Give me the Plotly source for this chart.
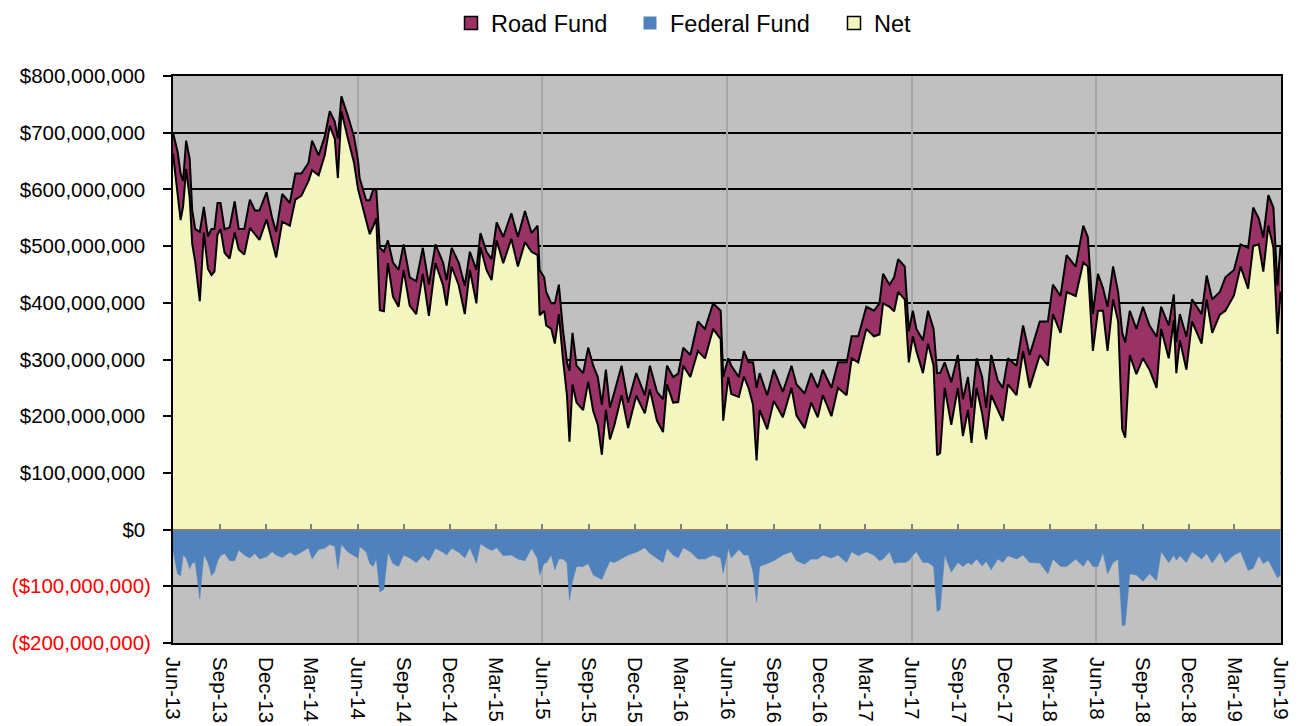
import plotly.graph_objects as go

# Values in $ millions
dates = [
    "2013-06-01", "2013-06-10", "2013-06-16", "2013-06-21", "2013-06-27", "2013-07-04", "2013-07-09", "2013-07-15",
    "2013-07-24", "2013-08-01", "2013-08-09", "2013-08-16", "2013-08-22", "2013-08-28", "2013-09-03", "2013-09-11",
    "2013-09-21", "2013-10-01", "2013-10-09", "2013-10-20", "2013-10-31", "2013-11-10", "2013-11-19", "2013-12-03",
    "2013-12-14", "2013-12-22", "2014-01-03", "2014-01-18", "2014-01-29", "2014-02-10", "2014-02-24", "2014-03-03",
    "2014-03-16", "2014-03-28", "2014-04-07", "2014-04-17", "2014-04-23", "2014-04-30", "2014-05-12", "2014-05-25",
    "2014-06-02", "2014-06-05", "2014-06-18", "2014-06-25", "2014-07-02", "2014-07-08", "2014-07-15", "2014-07-23",
    "2014-07-31", "2014-08-10", "2014-08-21", "2014-08-31", "2014-09-12", "2014-09-25", "2014-10-08", "2014-10-20",
    "2014-11-02", "2014-11-17", "2014-11-24", "2014-12-04", "2014-12-18", "2014-12-30", "2015-01-09", "2015-01-22",
    "2015-01-30", "2015-02-11", "2015-02-21", "2015-03-03", "2015-03-16", "2015-04-01", "2015-04-14", "2015-04-28",
    "2015-05-11", "2015-05-23", "2015-05-27", "2015-06-05", "2015-06-09", "2015-06-19", "2015-06-26", "2015-07-04",
    "2015-07-12", "2015-07-20", "2015-07-25", "2015-07-31", "2015-08-08", "2015-08-21", "2015-08-31", "2015-09-10",
    "2015-09-19", "2015-09-27", "2015-10-05", "2015-10-13", "2015-10-22", "2015-11-05", "2015-11-18", "2015-12-04",
    "2015-12-21", "2015-12-31", "2016-01-14", "2016-01-26", "2016-02-03", "2016-02-15", "2016-02-25", "2016-03-06",
    "2016-03-20", "2016-04-04", "2016-04-18", "2016-05-04", "2016-05-19", "2016-05-24", "2016-06-03", "2016-06-09",
    "2016-06-24", "2016-07-04", "2016-07-13", "2016-07-22", "2016-07-29", "2016-08-04", "2016-08-19", "2016-09-01",
    "2016-09-19", "2016-10-06", "2016-10-16", "2016-11-01", "2016-11-14", "2016-11-27", "2016-12-07", "2016-12-24",
    "2017-01-06", "2017-01-23", "2017-02-02", "2017-02-15", "2017-03-03", "2017-03-18", "2017-03-29", "2017-04-05",
    "2017-04-18", "2017-04-27", "2017-05-05", "2017-05-18", "2017-05-26", "2017-06-03", "2017-06-10", "2017-06-23",
    "2017-07-03", "2017-07-14", "2017-07-21", "2017-07-27", "2017-08-05", "2017-08-18", "2017-08-31", "2017-09-10",
    "2017-09-20", "2017-09-27", "2017-10-07", "2017-10-18", "2017-10-26", "2017-11-05", "2017-11-18", "2017-11-28",
    "2017-12-08", "2017-12-25", "2018-01-07", "2018-01-20", "2018-02-09", "2018-02-25", "2018-03-07", "2018-03-22",
    "2018-04-03", "2018-04-21", "2018-05-06", "2018-05-15", "2018-05-25", "2018-06-04", "2018-06-14", "2018-06-23",
    "2018-07-04", "2018-07-14", "2018-07-22", "2018-07-28", "2018-08-06", "2018-08-19", "2018-09-01", "2018-09-14",
    "2018-09-28", "2018-10-07", "2018-10-22", "2018-11-01", "2018-11-06", "2018-11-13", "2018-11-26", "2018-12-07",
    "2018-12-26", "2019-01-05", "2019-01-16", "2019-01-31", "2019-02-11", "2019-02-28", "2019-03-13", "2019-03-28",
    "2019-04-07", "2019-04-18", "2019-04-27", "2019-05-07", "2019-05-17", "2019-05-25", "2019-05-31",
]

road_fund = [
    700, 667, 628, 615, 686, 654, 563, 530, 525, 569, 517, 530, 530, 576, 576, 530,
    533, 579, 530, 530, 582, 563, 563, 595, 550, 525, 592, 576, 628, 628, 647, 686,
    660, 693, 738, 719, 690, 764, 732, 693, 650, 620, 581, 581, 600, 600, 497, 490,
    510, 471, 458, 503, 445, 438, 497, 432, 503, 471, 440, 497, 471, 430, 490, 458,
    523, 490, 477, 542, 516, 558, 516, 562, 523, 536, 458, 445, 419, 399, 399, 432,
    354, 295, 280, 347, 289, 276, 321, 289, 269, 220, 282, 215, 243, 289, 224, 276,
    237, 289, 243, 230, 289, 269, 275, 321, 308, 367, 354, 399, 386, 269, 302, 289,
    269, 315, 295, 295, 250, 276, 237, 282, 243, 289, 256, 240, 276, 250, 282, 250,
    295, 295, 341, 341, 393, 386, 399, 451, 432, 445, 477, 464, 350, 386, 354, 334,
    386, 354, 276, 276, 295, 260, 308, 230, 269, 215, 302, 269, 215, 308, 263, 250,
    302, 289, 360, 308, 367, 367, 432, 412, 484, 464, 536, 516, 380, 451, 426, 393,
    464, 419, 347, 330, 386, 354, 393, 360, 340, 393, 360, 415, 330, 380, 340, 406,
    380, 448, 406, 419, 445, 458, 503, 497, 568, 549, 515, 590, 568, 430, 500,
]

federal_fund = [
    -37, -78, -82, -45, -50, -69, -59, -58, -122, -45, -57, -81, -75, -56, -46, -42,
    -55, -55, -36, -45, -50, -42, -52, -48, -39, -45, -49, -40, -46, -39, -32, -52,
    -35, -33, -26, -30, -70, -26, -39, -46, -50, -30, -39, -60, -65, -51, -110, -105,
    -40, -60, -65, -45, -50, -58, -46, -55, -33, -40, -45, -33, -40, -50, -32, -59,
    -25, -32, -37, -32, -46, -45, -52, -55, -33, -52, -80, -59, -59, -45, -71, -52,
    -52, -58, -125, -91, -65, -65, -60, -80, -84, -88, -71, -56, -58, -52, -45, -40,
    -32, -42, -51, -58, -33, -45, -50, -32, -39, -52, -52, -45, -50, -77, -33, -50,
    -35, -45, -45, -75, -128, -65, -60, -55, -45, -39, -55, -61, -52, -52, -45, -50,
    -45, -58, -39, -46, -39, -45, -55, -52, -39, -60, -58, -58, -55, -45, -39, -58,
    -58, -65, -145, -141, -45, -75, -58, -65, -58, -62, -52, -64, -56, -71, -52, -58,
    -46, -52, -45, -58, -59, -78, -52, -65, -65, -52, -65, -52, -65, -65, -40, -78,
    -58, -52, -170, -168, -78, -80, -91, -78, -90, -39, -58, -45, -54, -46, -58, -39,
    -52, -42, -59, -40, -59, -45, -39, -72, -68, -46, -60, -54, -71, -85, -80,
]

net_fund = [
    663, 589, 546, 570, 636, 585, 504, 472, 403, 524, 460, 449, 455, 520, 530, 488,
    478, 524, 494, 485, 532, 521, 511, 547, 511, 480, 543, 536, 582, 589, 615, 634,
    625, 660, 712, 689, 620, 738, 693, 647, 600, 590, 542, 521, 535, 549, 387, 385,
    470, 411, 393, 458, 395, 380, 451, 377, 470, 431, 395, 464, 431, 380, 458, 399,
    498, 458, 440, 510, 470, 513, 464, 507, 490, 484, 378, 386, 360, 354, 328, 380,
    302, 237, 155, 256, 224, 211, 261, 209, 185, 132, 211, 159, 185, 237, 179, 236,
    205, 247, 192, 172, 256, 224, 225, 289, 269, 315, 302, 354, 336, 192, 269, 239,
    234, 270, 250, 220, 122, 211, 177, 227, 198, 250, 201, 179, 224, 198, 237, 200,
    250, 237, 302, 295, 354, 341, 344, 399, 393, 385, 419, 406, 295, 341, 315, 276,
    328, 289, 131, 135, 250, 185, 250, 165, 211, 153, 250, 205, 159, 237, 211, 192,
    256, 237, 315, 250, 308, 289, 380, 347, 419, 412, 471, 464, 315, 386, 386, 315,
    406, 367, 177, 162, 308, 274, 302, 282, 250, 354, 302, 370, 276, 334, 282, 367,
    328, 406, 347, 379, 386, 413, 464, 425, 500, 503, 455, 536, 497, 345, 420,
]

y_ticks = [-200, -100, 0, 100, 200, 300, 400, 500, 600, 700, 800]  # $ millions
x_range = ["2013-06-01", "2019-06-01"]

ROAD_COLOR = "#993366"
FED_COLOR = "#4F81BD"
NET_COLOR = "#F3F6BE"
FONT = "Liberation Sans, Arial, sans-serif"


def money_label(v):
    dollars = v * 1_000_000
    if dollars < 0:
        return f"<span style='color:#FF0000'>(${-dollars:,.0f})</span>"
    return f"${dollars:,.0f}&nbsp;"


fig = go.Figure()

fig.add_trace(go.Scatter(
    x=dates, y=road_fund, name="Road Fund", legendgroup="road", showlegend=False,
    mode="lines", fill="tozeroy", fillcolor=ROAD_COLOR,
    line=dict(color="black", width=2), hoverinfo="x+y+name",
))
fig.add_trace(go.Scatter(
    x=dates, y=federal_fund, name="Federal Fund", legendgroup="fed", showlegend=False,
    mode="lines", fill="tozeroy", fillcolor=FED_COLOR,
    line=dict(color=FED_COLOR, width=0.5), hoverinfo="x+y+name",
))
fig.add_trace(go.Scatter(
    x=dates, y=net_fund, name="Net", legendgroup="net", showlegend=False,
    mode="lines", fill="tozeroy", fillcolor=NET_COLOR,
    line=dict(color="black", width=2), hoverinfo="x+y+name",
))

# legend entries (square swatches like the original), one legend box each
for name, col, grp, lw, leg in [("Road Fund", ROAD_COLOR, "road", 1.5, "legend"),
                                ("Federal Fund", FED_COLOR, "fed", 0, "legend2"),
                                ("Net", NET_COLOR, "net", 1.5, "legend3")]:
    fig.add_trace(go.Scatter(
        x=[None], y=[None], mode="markers", name=name, legendgroup=grp, legend=leg,
        marker=dict(symbol="square", size=13, color=col, line=dict(color="black", width=lw)),
    ))

# overlay axes: gray axis at zero with quarterly marks, and yearly vertical gridlines
fig.add_trace(go.Scatter(x=[None], y=[None], xaxis="x2", showlegend=False, hoverinfo="skip"))
fig.add_trace(go.Scatter(x=[None], y=[None], xaxis="x3", showlegend=False, hoverinfo="skip"))

legend_common = dict(
    orientation="h", xref="container", yref="container",
    xanchor="left", y=0.968, yanchor="middle",
    font=dict(size=23.5, family=FONT, color="black"),
    bgcolor="rgba(0,0,0,0)", borderwidth=0,
)

fig.update_layout(
    width=1299, height=726,
    margin=dict(l=173, r=18, t=76, b=83, autoexpand=False),
    paper_bgcolor="white",
    plot_bgcolor="#C0C0C0",
    font=dict(family=FONT, color="black"),
    showlegend=True,
    legend=dict(x=451 / 1299, **legend_common),
    legend2=dict(x=630 / 1299, **legend_common),
    legend3=dict(x=834 / 1299, **legend_common),
    xaxis=dict(
        type="date", range=x_range, tick0="2013-06-01", dtick="M3", tickformat="%b-%y",
        tickangle=90, showgrid=False, zeroline=False, automargin=False,
        showline=True, linecolor="black", linewidth=2, mirror=True,
        ticks="", ticklabelstandoff=8, tickfont=dict(size=20.5, family=FONT, color="black"),
    ),
    xaxis2=dict(
        type="date", overlaying="x", anchor="free", position=0.2, side="bottom",
        range=x_range, tick0="2013-06-01", dtick="M3",
        showticklabels=False, showgrid=False, zeroline=False, automargin=False,
        showline=True, linecolor="#808080", linewidth=2,
        ticks="inside", ticklen=5, tickcolor="#808080", tickwidth=1.5,
    ),
    xaxis3=dict(
        type="date", overlaying="x", anchor="y", range=x_range,
        tick0="2013-06-01", dtick="M12", automargin=False,
        showticklabels=False, showgrid=True, gridcolor="#A6A6A6", gridwidth=2,
        zeroline=False, showline=False, ticks="",
    ),
    yaxis=dict(
        range=[-200, 800], tickvals=y_ticks, ticktext=[money_label(v) for v in y_ticks],
        showgrid=True, gridcolor="black", gridwidth=2, zeroline=False, automargin=False,
        showline=True, linecolor="black", linewidth=2, mirror=True,
        ticks="outside", ticklen=8, tickcolor="black", tickwidth=2,
        ticklabelstandoff=8,
        tickfont=dict(size=20.5, family=FONT, color="black"),
    ),
)

fig.write_html(
    "out.html",
    config={"displayModeBar": False},
    post_script="document.body.style.margin='0';document.body.style.overflow='hidden';",
)
